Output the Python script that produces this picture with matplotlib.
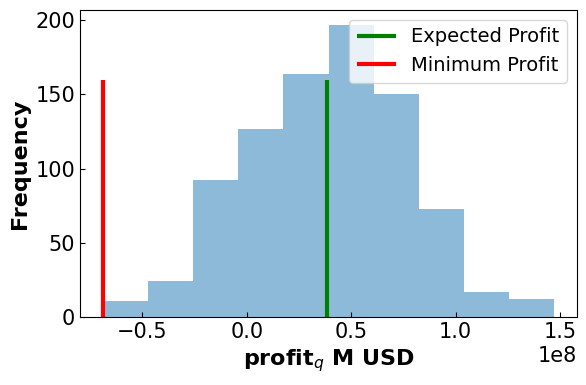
import numpy as np
import matplotlib.pyplot as plt

# histogram
edges = np.linspace(-0.691e8, 1.473e8, 11)
counts = [11, 24, 92, 127, 164, 197, 150, 73, 17, 12]
expected_profit = 0.385e8
min_profit = -0.691e8
line_top = 160

fig = plt.figure(figsize=(5.86, 3.85), dpi=100)
ax = fig.add_axes([80/586, 1-317/385, 497/586, 307/385])
ax.hist(edges[:-1], bins=edges, weights=counts, alpha=0.5)
ax.vlines(expected_profit, 0, line_top, color='green', linewidth=3, label='Expected Profit')
ax.vlines(min_profit, 0, line_top, color='red', linewidth=3, label='Minimum Profit')

ax.set_xlabel(r'profit$_q$ M USD', fontsize=16, fontweight='bold')
ax.set_ylabel('Frequency', fontsize=16, fontweight='bold')
ax.tick_params(direction='in', labelsize=15)
ax.xaxis.get_offset_text().set_fontsize(15)
ax.legend(fontsize=14, loc='upper right')

fig.savefig('out.png')
